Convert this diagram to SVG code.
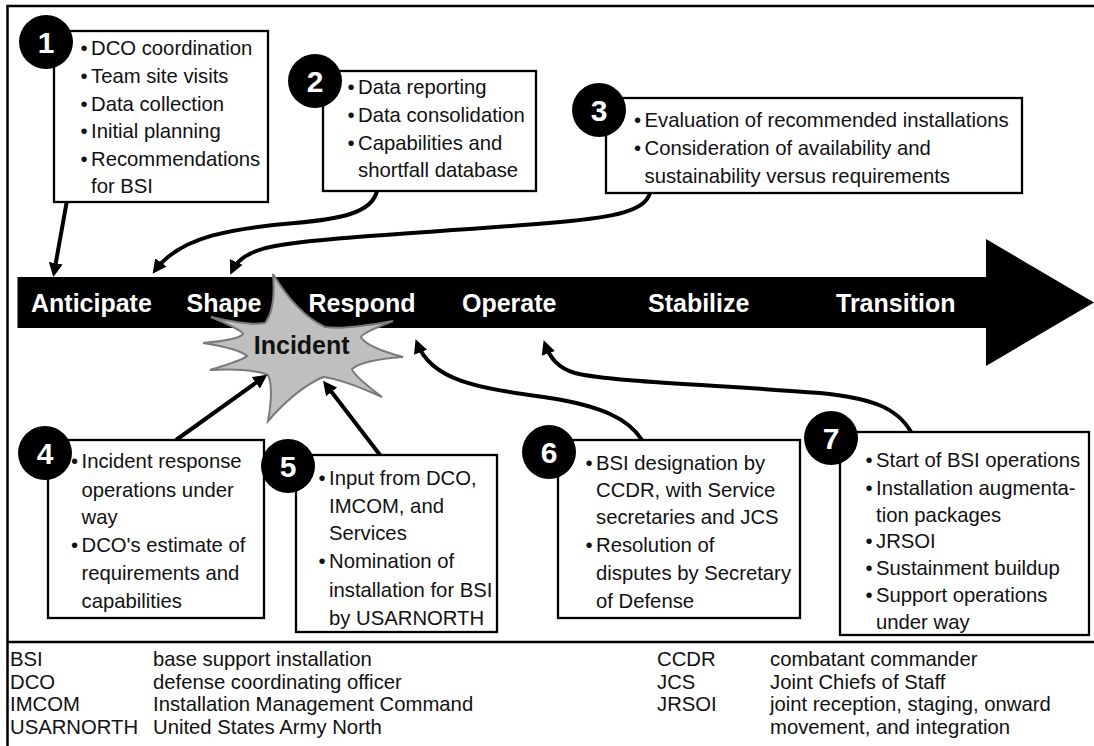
<svg xmlns="http://www.w3.org/2000/svg" width="1094" height="746" viewBox="0 0 1094 746">
<style>
.frame{fill:none;stroke:#000;stroke-width:2.5}
.box{fill:#fff;stroke:#000;stroke-width:2.3}
.dot{fill:#000}
.num{fill:#fff;font-family:"Liberation Sans",Arial,sans-serif;font-weight:bold;font-size:30px;text-anchor:middle}
.t{font-family:"Liberation Sans",Arial,sans-serif;font-size:20.3px;fill:#111}
.lbl{font-family:"Liberation Sans",Arial,sans-serif;font-weight:bold;font-size:25px;fill:#fff}
.inc{font-family:"Liberation Sans",Arial,sans-serif;font-weight:bold;font-size:25px;fill:#111;text-anchor:middle}
.leg{font-family:"Liberation Sans",Arial,sans-serif;font-size:20.3px;fill:#111}
.conn{fill:none;stroke:#000;stroke-width:4;marker-end:url(#ah)}
</style>
<defs>
<marker id="ah" markerUnits="userSpaceOnUse" markerWidth="15" markerHeight="15" refX="10" refY="7" orient="auto">
<path d="M0,0 L14,7 L0,14 z" fill="#000"/>
</marker>
</defs>

<g id="frame">
<path class="frame" d="M7.5,746 V6 H1094"/>
<path class="frame" d="M7.5,642 H1094"/>
</g>

<g id="timeline">
<polygon points="17.5,277 986,277 986,239 1094,302.5 986,366 986,328 17.5,328" fill="#000"/>
<text class="lbl" x="31" y="312">Anticipate</text>
<text class="lbl" x="186.5" y="312">Shape</text>
<text class="lbl" x="308.5" y="312">Respond</text>
<text class="lbl" x="462" y="312">Operate</text>
<text class="lbl" x="648" y="312">Stabilize</text>
<text class="lbl" x="836" y="312">Transition</text>
</g>

<g id="incident">
<path d="M273,274 Q297,314 325,327 Q344,330 393,321 Q362,333 361,337 Q366,347 403,357 Q362,360 352,369 Q354,376 382,397 Q342,379 323,377 Q296,389 268,421 Q274,388 268,375 Q251,368 210,370 Q243,360 247,356 Q240,349 203,343 Q238,340 243,334 Q242,330 211,317 Q250,326 265,323 Q276,309 273,274 Z" fill="#bfbfbf" stroke="#7a7a7a" stroke-width="2"/>
<text class="inc" x="301.7" y="354">Incident</text>
</g>

<g id="connectors">
<path class="conn" d="M66.7,202 L54,273"/>
<path class="conn" d="M377,191 C372,213 340,219 295,223 C235,228 180,236 155,270.5"/>
<path class="conn" d="M650,193 C645,211 615,217 560,222 C450,232 330,236 275,246 C252,250 238,258 232,271"/>
<path class="conn" d="M176,440 L264,377"/>
<path class="conn" d="M380,455 L325.5,384"/>
<path class="conn" d="M642,440 C628,418 600,406 550,398 C480,388 432,382 417,343"/>
<path class="conn" d="M911,432 C897,407 870,398 820,393 C720,385 610,382 575,373 C558,368 550,358 545,344"/>
</g>

<g id="node1">
<rect class="box" x="54" y="31" width="214" height="171"/>
<circle class="dot" cx="46" cy="42" r="27"/>
<text class="num" x="46" y="53">1</text>
<text class="t" x="80.5" y="55">•</text><text class="t" x="91" y="55">DCO coordination</text>
<text class="t" x="80.5" y="83">•</text><text class="t" x="91" y="83">Team site visits</text>
<text class="t" x="80.5" y="110.5">•</text><text class="t" x="91" y="110.5">Data collection</text>
<text class="t" x="80.5" y="138">•</text><text class="t" x="91" y="138">Initial planning</text>
<text class="t" x="80.5" y="166">•</text><text class="t" x="91" y="166">Recommendations</text>
<text class="t" x="91" y="193">for BSI</text>
</g>

<g id="node2">
<rect class="box" x="323" y="71" width="213" height="120"/>
<circle class="dot" cx="315" cy="81" r="27"/>
<text class="num" x="315" y="92">2</text>
<text class="t" x="347.5" y="94">•</text><text class="t" x="358" y="94">Data reporting</text>
<text class="t" x="347.5" y="122">•</text><text class="t" x="358" y="122">Data consolidation</text>
<text class="t" x="347.5" y="150">•</text><text class="t" x="358" y="150">Capabilities and</text>
<text class="t" x="358" y="177">shortfall database</text>
</g>

<g id="node3">
<rect class="box" x="606" y="98" width="416" height="95"/>
<circle class="dot" cx="599" cy="110" r="27"/>
<text class="num" x="599" y="121">3</text>
<text class="t" x="634" y="127">•</text><text class="t" x="644.5" y="127">Evaluation of recommended installations</text>
<text class="t" x="634" y="155">•</text><text class="t" x="644.5" y="155">Consideration of availability and</text>
<text class="t" x="644.5" y="183">sustainability versus requirements</text>
</g>

<g id="node4">
<rect class="box" x="48" y="440" width="216" height="178"/>
<circle class="dot" cx="45" cy="453" r="27"/>
<text class="num" x="45" y="464">4</text>
<text class="t" x="71" y="468">•</text><text class="t" x="81.5" y="468">Incident response</text>
<text class="t" x="81.5" y="497">operations under</text>
<text class="t" x="81.5" y="524">way</text>
<text class="t" x="71" y="552">•</text><text class="t" x="81.5" y="552">DCO's estimate of</text>
<text class="t" x="81.5" y="580">requirements and</text>
<text class="t" x="81.5" y="608">capabilities</text>
</g>

<g id="node5">
<rect class="box" x="296" y="455" width="201" height="177"/>
<circle class="dot" cx="288" cy="466" r="27"/>
<text class="num" x="288" y="477">5</text>
<text class="t" x="318.5" y="485">•</text><text class="t" x="329" y="485">Input from DCO,</text>
<text class="t" x="329" y="513">IMCOM, and</text>
<text class="t" x="329" y="540">Services</text>
<text class="t" x="318.5" y="568">•</text><text class="t" x="329" y="568">Nomination of</text>
<text class="t" x="329" y="597">installation for BSI</text>
<text class="t" x="329" y="625">by USARNORTH</text>
</g>

<g id="node6">
<rect class="box" x="558" y="440" width="242" height="178"/>
<circle class="dot" cx="549" cy="452" r="27"/>
<text class="num" x="549" y="463">6</text>
<text class="t" x="585.5" y="470">•</text><text class="t" x="596" y="470">BSI designation by</text>
<text class="t" x="596" y="497">CCDR, with Service</text>
<text class="t" x="596" y="524">secretaries and JCS</text>
<text class="t" x="585.5" y="552">•</text><text class="t" x="596" y="552">Resolution of</text>
<text class="t" x="596" y="580">disputes by Secretary</text>
<text class="t" x="596" y="608">of Defense</text>
</g>

<g id="node7">
<rect class="box" x="840" y="432" width="249" height="203"/>
<circle class="dot" cx="831" cy="438" r="27"/>
<text class="num" x="831" y="449">7</text>
<text class="t" x="865.5" y="467">•</text><text class="t" x="876" y="467">Start of BSI operations</text>
<text class="t" x="865.5" y="495">•</text><text class="t" x="876" y="495">Installation augmenta-</text>
<text class="t" x="876" y="522">tion packages</text>
<text class="t" x="865.5" y="548">•</text><text class="t" x="876" y="548">JRSOI</text>
<text class="t" x="865.5" y="575">•</text><text class="t" x="876" y="575">Sustainment buildup</text>
<text class="t" x="865.5" y="602">•</text><text class="t" x="876" y="602">Support operations</text>
<text class="t" x="876" y="629">under way</text>
</g>

<g id="legend">
<text class="leg" x="10" y="666">BSI</text><text class="leg" x="153" y="666">base support installation</text>
<text class="leg" x="10" y="688.5">DCO</text><text class="leg" x="153" y="688.5">defense coordinating officer</text>
<text class="leg" x="10" y="711">IMCOM</text><text class="leg" x="153" y="711">Installation Management Command</text>
<text class="leg" x="10" y="733.5">USARNORTH</text><text class="leg" x="153" y="733.5">United States Army North</text>
<text class="leg" x="657" y="666">CCDR</text><text class="leg" x="770" y="666">combatant commander</text>
<text class="leg" x="657" y="688.5">JCS</text><text class="leg" x="770" y="688.5">Joint Chiefs of Staff</text>
<text class="leg" x="657" y="711">JRSOI</text><text class="leg" x="770" y="711">joint reception, staging, onward</text>
<text class="leg" x="770" y="733.5">movement, and integration</text>
</g>
</svg>
